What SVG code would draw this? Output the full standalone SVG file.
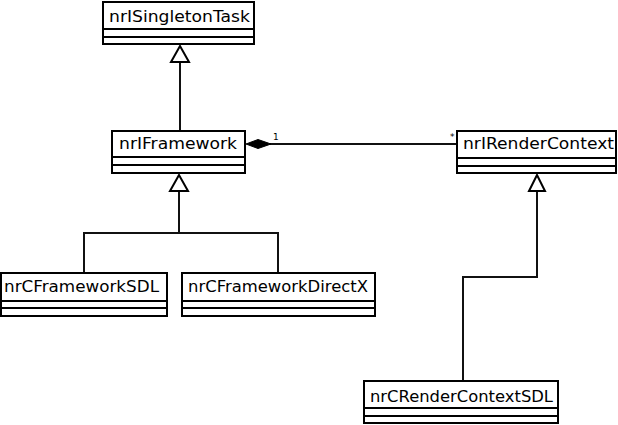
<svg xmlns="http://www.w3.org/2000/svg" width="618" height="425" viewBox="0 0 618 425">
<style>
.box{fill:#fff;stroke:#000;stroke-width:2}
.div{stroke:#000;stroke-width:2}
.t{font-family:"DejaVu Sans",Verdana,sans-serif;font-size:15px;fill:#000}
.c{fill:none;stroke:#111;stroke-width:2}
.tri{fill:#fff;stroke:#000;stroke-width:2}
.m{font-family:"DejaVu Sans",sans-serif;font-size:9px;fill:#000}
</style>
<rect width="618" height="425" fill="#fff"/>
<g id="connectors">
<polyline class="c" points="180,62 180,130"/>
<polygon class="tri" points="180,46 171,62 189,62"/>
<polyline class="c" points="179,191 179,233"/>
<polyline class="c" points="84,272 84,233 278,233 278,272"/>
<polygon class="tri" points="179,175 170,191 188,191"/>
<polyline class="c" points="537,191 537,277 463,277 463,380"/>
<polygon class="tri" points="537,175 529,191 545,191"/>
<line class="c" x1="270" y1="144" x2="457" y2="144"/>
<polygon points="246,144 258,139.5 271,144 258,148.5" fill="#000" stroke="#000" stroke-width="1"/>
<text class="m" x="273" y="140">1</text>
<text class="m" x="450" y="140">*</text>
</g>
<g id="nrISingletonTask">
<rect class="box" x="103" y="2" width="151" height="42"/>
<line class="div" x1="103" y1="29" x2="254" y2="29"/>
<line class="div" x1="103" y1="37" x2="254" y2="37"/>
<text class="t" x="109" y="22" textLength="141" lengthAdjust="spacingAndGlyphs">nrISingletonTask</text>
</g>
<g id="nrIFramework">
<rect class="box" x="112" y="131" width="133" height="42"/>
<line class="div" x1="112" y1="157" x2="245" y2="157"/>
<line class="div" x1="112" y1="165" x2="245" y2="165"/>
<text class="t" x="119" y="149" textLength="118" lengthAdjust="spacingAndGlyphs">nrIFramework</text>
</g>
<g id="nrIRenderContext">
<rect class="box" x="457" y="131" width="159" height="42"/>
<line class="div" x1="457" y1="158" x2="616" y2="158"/>
<line class="div" x1="457" y1="166" x2="616" y2="166"/>
<text class="t" x="463" y="149" textLength="151" lengthAdjust="spacingAndGlyphs">nrIRenderContext</text>
</g>
<g id="nrCFrameworkSDL">
<rect class="box" x="1" y="273" width="166" height="43"/>
<line class="div" x1="1" y1="301" x2="167" y2="301"/>
<line class="div" x1="1" y1="308" x2="167" y2="308"/>
<text class="t" x="4" y="292" textLength="155" lengthAdjust="spacingAndGlyphs">nrCFrameworkSDL</text>
</g>
<g id="nrCFrameworkDirectX">
<rect class="box" x="182" y="273" width="193" height="43"/>
<line class="div" x1="182" y1="301" x2="375" y2="301"/>
<line class="div" x1="182" y1="308" x2="375" y2="308"/>
<text class="t" x="188" y="292" textLength="180" lengthAdjust="spacingAndGlyphs">nrCFrameworkDirectX</text>
</g>
<g id="nrCRenderContextSDL">
<rect class="box" x="364" y="381" width="194" height="42"/>
<line class="div" x1="364" y1="408" x2="558" y2="408"/>
<line class="div" x1="364" y1="416" x2="558" y2="416"/>
<text class="t" x="370" y="402" textLength="183" lengthAdjust="spacingAndGlyphs">nrCRenderContextSDL</text>
</g>
</svg>
